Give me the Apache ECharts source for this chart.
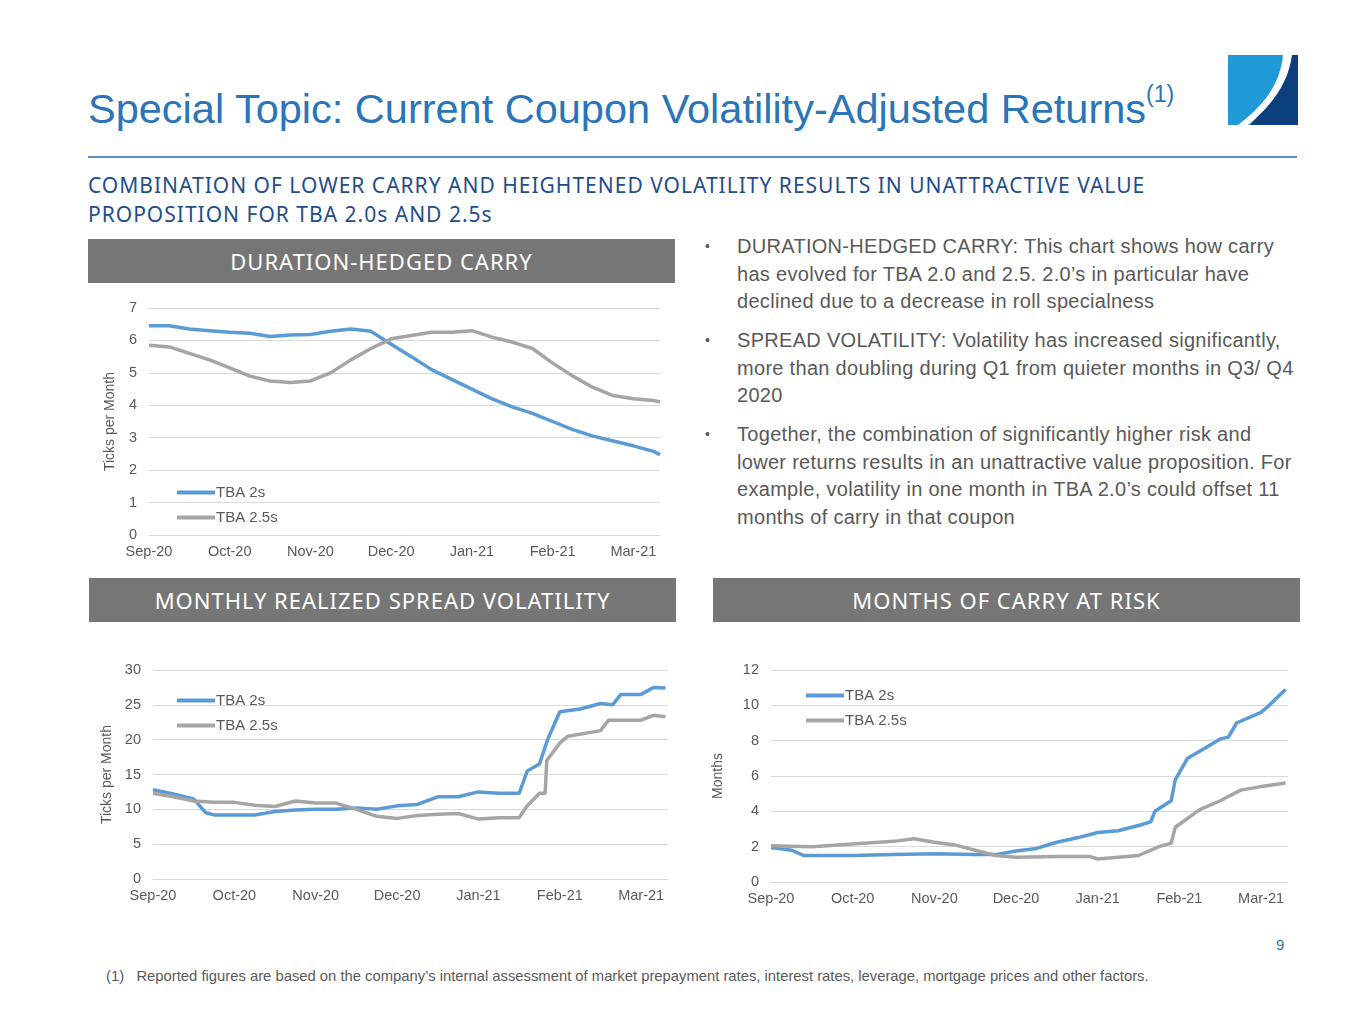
<!DOCTYPE html>
<html>
<head>
<meta charset="utf-8">
<script src="https://cdn.jsdelivr.net/npm/echarts@6/dist/echarts.min.js"></script>
<style>
body { margin:0; width:1365px; height:1024px; background:#fff; font-family:"Liberation Sans", Arial, sans-serif; position:relative; overflow:hidden; }
.abs { position:absolute; }
.hdr { position:absolute; background:#767676; color:#fff; font-size:22px; text-align:center; line-height:44px; height:44px; font-family:"Noto Sans", sans-serif; letter-spacing:1px; }
.bul { position:absolute; left:705px; width:600px; color:#595959; font-size:20px; line-height:27.5px; font-family:"Liberation Sans", sans-serif; letter-spacing:0.3px; }
.bul span { position:absolute; left:0; font-size:14px; }
.bul div { margin-left:32px; }
</style>
</head>
<body>
<div class="abs" style="left:88px;top:85px;font-size:41.5px;color:#2a74b8;">Special Topic: Current Coupon Volatility-Adjusted Returns<sup style="font-size:23px;position:relative;top:-6px;">(1)</sup></div>
<div class="abs" style="left:1228px;top:55px;width:70px;height:70px;">
  <svg width="70" height="70" viewBox="0 0 70 70">
    <rect x="0" y="0" width="70" height="70" fill="#1f9ad6"/>
    <path d="M62,0 L70,0 L70,70 L22,70 C40,50 58,30 62,0 Z" fill="#0c3f7d"/>
    <path d="M55,0 L64,0 C60,30 42,52 20,70 L10,70 C36,50 52,30 55,0 Z" fill="#fff"/>
  </svg>
</div>
<div class="abs" style="left:88px;top:156px;width:1209px;height:2px;background:#5b8fc6;"></div>
<div class="abs" style="left:88px;top:171px;font-size:21px;line-height:29px;color:#1f4e8c;font-family:'Noto Sans',sans-serif;letter-spacing:1px;">COMBINATION OF LOWER CARRY AND HEIGHTENED VOLATILITY RESULTS IN UNATTRACTIVE VALUE<br>PROPOSITION FOR TBA 2.0s AND 2.5s</div>

<div class="hdr" style="left:88px;top:239px;width:587px;">DURATION-HEDGED CARRY</div>
<div class="hdr" style="left:89px;top:578px;width:587px;">MONTHLY REALIZED SPREAD VOLATILITY</div>
<div class="hdr" style="left:713px;top:578px;width:587px;">MONTHS OF CARRY AT RISK</div>

<div class="bul" style="top:233px;"><span>•</span><div>DURATION-HEDGED CARRY: This chart shows how carry has evolved for TBA 2.0 and 2.5. 2.0’s in particular have declined due to a decrease in roll specialness</div></div>
<div class="bul" style="top:327px;"><span>•</span><div>SPREAD VOLATILITY: Volatility has increased significantly, more than doubling during Q1 from quieter months in Q3/ Q4 2020</div></div>
<div class="bul" style="top:421px;"><span>•</span><div>Together, the combination of significantly higher risk and lower returns results in an unattractive value proposition. For example, volatility in one month in TBA 2.0’s could offset 11 months of carry in that coupon</div></div>

<div id="c1" class="abs" style="left:95px;top:295px;width:575px;height:275px;"></div>
<div id="c2" class="abs" style="left:90px;top:655px;width:590px;height:265px;"></div>
<div id="c3" class="abs" style="left:700px;top:650px;width:600px;height:270px;"></div>

<div class="abs" style="left:1276px;top:936px;font-size:15px;color:#2a74b8;">9</div>
<div class="abs" style="left:106px;top:968px;font-size:14.8px;color:#595959;">(1)&nbsp;&nbsp;&nbsp;Reported figures are based on the company’s internal assessment of market prepayment rates, interest rates, leverage, mortgage prices and other factors.</div>

<script>
// x = months since Sep-20
let months = ['Sep-20', 'Oct-20', 'Nov-20', 'Dec-20', 'Jan-21', 'Feb-21', 'Mar-21'];

let carry = {
    tba2: [[0,6.45],[0.25,6.45],[0.5,6.35],[0.75,6.3],[1,6.25],[1.25,6.22],[1.5,6.12],[1.75,6.17],[2,6.18],[2.25,6.28],[2.5,6.35],[2.75,6.28],[3,5.88],[3.25,5.5],[3.5,5.1],[3.75,4.8],[4,4.5],[4.25,4.2],[4.5,3.95],[4.75,3.75],[5,3.5],[5.25,3.25],[5.5,3.05],[5.75,2.9],[6,2.75],[6.25,2.58],[6.33,2.48]],
    tba25: [[0,5.85],[0.25,5.8],[0.5,5.6],[0.75,5.4],[1,5.15],[1.25,4.9],[1.5,4.75],[1.75,4.7],[2,4.75],[2.25,5.0],[2.5,5.4],[2.75,5.75],[3,6.05],[3.25,6.15],[3.5,6.25],[3.75,6.25],[4,6.3],[4.25,6.1],[4.5,5.95],[4.75,5.75],[5,5.3],[5.25,4.9],[5.5,4.55],[5.75,4.3],[6,4.2],[6.25,4.15],[6.33,4.1]]
};
let vol = {
    tba2: [[0,12.8],[0.25,12.2],[0.5,11.5],[0.65,9.5],[0.75,9.2],[1,9.2],[1.25,9.2],[1.5,9.7],[1.75,9.9],[2,10.0],[2.25,10.0],[2.5,10.2],[2.75,10.0],[3,10.5],[3.25,10.7],[3.5,11.8],[3.75,11.8],[4,12.5],[4.25,12.3],[4.5,12.3],[4.6,15.5],[4.75,16.5],[4.85,20],[5,24],[5.25,24.4],[5.5,25.2],[5.65,25.0],[5.75,26.5],[6,26.5],[6.15,27.5],[6.3,27.4]],
    tba25: [[0,12.3],[0.25,11.8],[0.5,11.2],[0.75,11.0],[1,11.0],[1.25,10.6],[1.5,10.4],[1.75,11.2],[2,10.9],[2.25,10.9],[2.5,10.0],[2.75,9.0],[3,8.7],[3.25,9.1],[3.5,9.3],[3.75,9.4],[4,8.6],[4.25,8.8],[4.5,8.8],[4.6,10.5],[4.75,12.3],[4.82,12.3],[4.84,17],[5,19.5],[5.1,20.5],[5.5,21.3],[5.6,22.8],[6,22.8],[6.15,23.5],[6.3,23.3]]
};
let risk = {
    tba2: [[0,1.95],[0.25,1.8],[0.4,1.5],[1,1.5],[1.5,1.55],[2,1.6],[2.5,1.55],[2.75,1.55],[3,1.75],[3.25,1.9],[3.5,2.25],[3.75,2.5],[4,2.8],[4.25,2.9],[4.5,3.2],[4.65,3.4],[4.7,4.0],[4.9,4.6],[4.95,5.8],[5.1,7.0],[5.25,7.4],[5.5,8.1],[5.6,8.2],[5.7,9.0],[5.9,9.4],[6,9.6],[6.1,10.0],[6.3,10.9]],
    tba25: [[0,2.05],[0.5,2.0],[1,2.15],[1.5,2.3],[1.75,2.45],[2,2.25],[2.25,2.1],[2.5,1.8],[2.75,1.5],[3,1.4],[3.5,1.45],[3.9,1.45],[4,1.3],[4.25,1.4],[4.5,1.5],[4.75,2.0],[4.9,2.2],[4.95,3.1],[5.25,4.1],[5.5,4.6],[5.75,5.2],[6,5.4],[6.3,5.6]]
};

function drawChart(id, data, opts) {
    let myChart = echarts.init(document.getElementById(id));
    let lbl = { color: '#595959', fontSize: 14.5, fontFamily: 'Liberation Sans' };
    let option = {
        animation: false,
        grid: opts.grid,
        legend: {
            orient: 'vertical',
            left: opts.legend[0], top: opts.legend[1],
            icon: 'rect', itemWidth: 38, itemHeight: 4, itemGap: 10,
            textStyle: { color: '#595959', fontSize: 15, padding: [0, 0, 0, -4] },
            data: ['TBA 2s', 'TBA 2.5s']
        },
        xAxis: {
            type: 'value', min: 0, max: opts.xmax, interval: 1,
            axisLine: { lineStyle: { color: '#d9d9d9' } },
            axisTick: { show: false },
            splitLine: { show: false },
            axisLabel: Object.assign({ showMaxLabel: false, margin: 9, formatter: v => months[v] || '' }, lbl)
        },
        yAxis: {
            type: 'value', min: 0, max: opts.ymax, interval: opts.yint,
            name: opts.yname, nameLocation: 'middle', nameGap: opts.nameGap,
            nameTextStyle: { color: '#595959', fontSize: 14, letterSpacing: 1.5 },
            axisLine: { show: false }, axisTick: { show: false },
            splitLine: { lineStyle: { color: '#d9d9d9' } },
            axisLabel: Object.assign({ margin: 12 }, lbl)
        },
        series: [
            { name: 'TBA 2s', type: 'line', data: data.tba2, showSymbol: false, lineStyle: { width: 3.5, color: '#5b9bd5' }, itemStyle: { color: '#5b9bd5' } },
            { name: 'TBA 2.5s', type: 'line', data: data.tba25, showSymbol: false, lineStyle: { width: 3.5, color: '#a5a5a5' }, itemStyle: { color: '#a5a5a5' } }
        ]
    };
    myChart.setOption(option, true);
}

drawChart('c1', carry, { grid: { left: 54, right: 10, top: 13, bottom: 35 }, xmax: 6.33, ymax: 7, yint: 1, yname: 'Ticks per Month', nameGap: 32, legend: [77, 185] });
drawChart('c2', vol, { grid: { left: 63, right: 12, top: 15, bottom: 41 }, xmax: 6.33, ymax: 30, yint: 5, yname: 'Ticks per Month', nameGap: 38, legend: [82, 33] });
drawChart('c3', risk, { grid: { left: 71, right: 12, top: 20, bottom: 38 }, xmax: 6.33, ymax: 12, yint: 2, yname: 'Months', nameGap: 46, legend: [101, 33] });
</script>
</body>
</html>
